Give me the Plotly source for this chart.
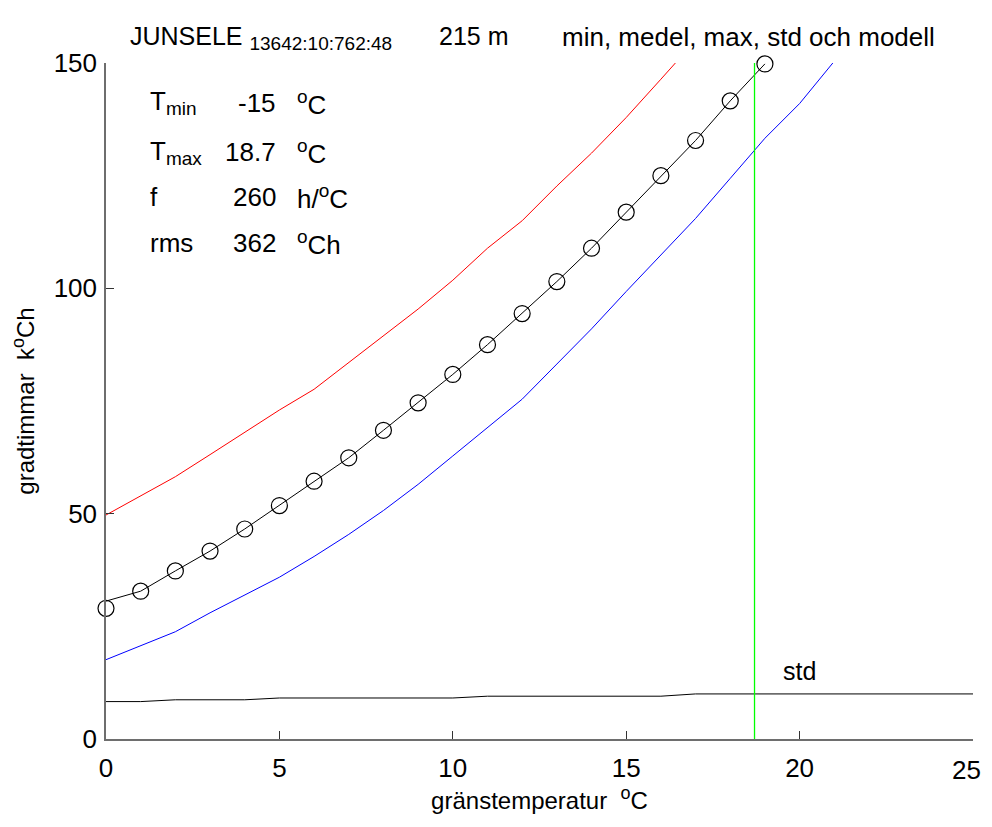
import plotly.graph_objects as go

# gränstemperatur (x) and series
temp = list(range(0, 20))
medel = [30.6, 32.8, 37.3, 41.7, 46.6, 51.8, 57.2, 62.4, 68.5, 74.6,
         80.9, 87.5, 94.4, 101.5, 108.9, 116.9, 125.0, 132.8, 141.6, 149.8]
modell = [29.0, 32.8, 37.3, 41.7, 46.6, 51.8, 57.2, 62.4, 68.5, 74.6,
          80.9, 87.5, 94.4, 101.5, 108.9, 116.9, 125.0, 132.8, 141.6, 149.8]

temp_max = list(range(0, 18))
maxv = [49.7, 53.9, 58.2, 63.1, 68.0, 73.0, 77.6, 83.5, 89.3, 95.4,
        101.8, 108.9, 115.0, 122.7, 130.0, 137.9, 146.4, 155.0]

temp_min = list(range(0, 22))
minv = [17.6, 20.7, 23.8, 28.0, 31.9, 35.9, 40.5, 45.4, 50.7, 56.5,
        62.8, 69.1, 75.4, 83.2, 91.0, 99.3, 107.5, 115.5, 124.4, 133.3,
        141.0, 150.4]

temp_std = list(range(0, 26))
std = [8.3, 8.3, 8.7, 8.7, 8.7, 9.1, 9.1, 9.1, 9.1, 9.1, 9.1, 9.5, 9.5,
       9.5, 9.5, 9.5, 9.5, 10.0, 10.0, 10.0, 10.0, 10.0, 10.0, 10.0, 10.0, 10.0]

x_ticks = [0, 5, 10, 15, 20, 25]
y_ticks = [0, 50, 100, 150]

t_min = -15
t_max = 18.7
f_val = 260
rms = 362

FONT = "Liberation Sans, Arial, Helvetica, sans-serif"


def sub(s, px):
    return f"<sub><span style='font-size:{px}px'>{s}</span></sub>"


def sup(s, px):
    return f"<sup><span style='font-size:{px}px'>{s}</span></sup>"


fig = go.Figure()

fig.add_trace(go.Scatter(x=temp_max, y=maxv, mode="lines",
                         line=dict(color="#ff0000", width=1)))
fig.add_trace(go.Scatter(x=temp_min, y=minv, mode="lines",
                         line=dict(color="#0000ff", width=1)))
fig.add_trace(go.Scatter(x=temp, y=medel, mode="lines",
                         line=dict(color="black", width=1)))
fig.add_trace(go.Scatter(x=temp, y=modell, mode="markers", cliponaxis=False,
                         marker=dict(symbol="circle-open", size=16,
                                     color="black", line=dict(width=1.2))))
fig.add_trace(go.Scatter(x=temp_std, y=std, mode="lines",
                         line=dict(color="black", width=1)))
fig.add_trace(go.Scatter(x=[t_max, t_max], y=[0, 150], mode="lines",
                         line=dict(color="#00ff00", width=1.3)))


def txt(size):
    return dict(showarrow=False, font=dict(family=FONT, size=size, color="black"))


fig.add_annotation(x=20.0, y=15.0, text="std", xanchor="center", **txt(25))

# parameter table
rows = [
    ("T" + sub("min", 19), f"{t_min}", sup("o", 19) + "C", 141.2),
    ("T" + sub("max", 19), f"{t_max}", sup("o", 19) + "C", 130.2),
    ("f", f"{f_val}", "h/" + sup("o", 19) + "C", 120.3),
    ("rms", f"{rms}", sup("o", 19) + "Ch", 110.0),
]
for name, val, unit, yy in rows:
    fig.add_annotation(x=1.21, y=yy, text=name, xanchor="left", **txt(26))
    fig.add_annotation(x=4.96, y=yy, text=val, xanchor="right", **txt(26))
    fig.add_annotation(x=5.45, y=yy, text=unit, xanchor="left", **txt(26))

# title line
title_y = 1.063
fig.add_annotation(x=0.0254, y=title_y, xref="paper", yref="paper",
                   text="JUNSELE " + sub("13642:10:762:48", 19),
                   xanchor="left", **txt(25))
fig.add_annotation(x=0.382, y=title_y, xref="paper", yref="paper",
                   text="215 m", xanchor="left", **txt(25))
fig.add_annotation(x=0.524, y=title_y, xref="paper", yref="paper",
                   text="min, medel, max, std och modell",
                   xanchor="left", **txt(26))

# last x tick label sits at the page edge; draw it as text kept inside the div
fig.add_annotation(x=1.011, y=0, xref="paper", yref="paper", yanchor="top",
                   yshift=-14, text=str(x_ticks[-1]), xanchor="right", **txt(26))

axis_common = dict(showgrid=False, zeroline=False, showline=True,
                   linecolor="#6e6e6e", linewidth=1.5, ticks="inside",
                   ticklen=8, tickcolor="#333333", mirror=False,
                   tickfont=dict(family=FONT, size=26, color="black"))

fig.update_xaxes(range=[0, 25], tickvals=x_ticks,
                 ticktext=[str(v) for v in x_ticks[:-1]] + [""],
                 ticklabelstandoff=5,
                 title=dict(text="gränstemperatur  " + sup("o", 18) + "C",
                            font=dict(family=FONT, size=24, color="black"),
                            standoff=8),
                 **axis_common)
fig.update_yaxes(range=[0, 150], tickvals=y_ticks,
                 ticklabelstandoff=2,
                 title=dict(text="gradtimmar  k" + sup("o", 18) + "Ch",
                            font=dict(family=FONT, size=24, color="black"),
                            standoff=16),
                 **axis_common)

# the page keeps its 8px body margin, so the figure is 16px smaller than
# the window and the margins are shifted by 8px
fig.update_layout(
    width=976, height=811,
    margin=dict(l=98, r=11, t=55, b=74),
    paper_bgcolor="white", plot_bgcolor="white",
    showlegend=False,
)

fig.write_html("out.html", config={"displayModeBar": False})
